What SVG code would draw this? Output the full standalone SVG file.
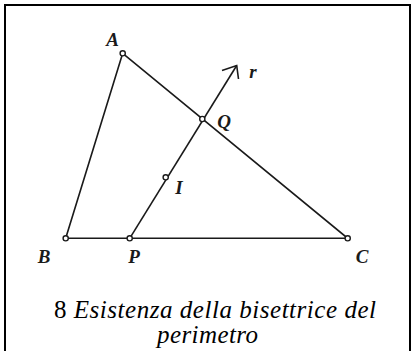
<svg xmlns="http://www.w3.org/2000/svg" width="411" height="351" viewBox="0 0 411 351">
<style>
.ln{stroke:#1a1a1a;stroke-width:1.6;fill:none}
.pt{fill:#fff;stroke:#1a1a1a;stroke-width:1.4}
.lb{font-family:"Liberation Serif",serif;font-style:italic;font-weight:bold;font-size:19px;fill:#1a1a1a;text-anchor:middle}
.cap{font-family:"Liberation Serif",serif;font-style:italic;font-size:25px;fill:#000}
.up{font-style:normal}
</style>
<rect x="0" y="0" width="411" height="351" fill="#fff"/>
<path d="M5,352 V5 H410 V352" fill="none" stroke="#000" stroke-width="2"/>
<g id="connectors">
<path class="ln" d="M122.7,53.3 L65.7,238.3 L347.7,238.3 Z"/>
<path class="ln" d="M129.7,238.3 L236.7,65.5"/>
<path class="ln" d="M222,70.5 L236.7,65.5 L238.5,79"/>
</g>
<g id="A"><circle class="pt" cx="122.7" cy="53.3" r="2.6"/><text class="lb" x="112.5" y="46">A</text></g>
<g id="B"><circle class="pt" cx="65.7" cy="238.3" r="2.6"/><text class="lb" x="44" y="263">B</text></g>
<g id="P"><circle class="pt" cx="129.7" cy="238.3" r="2.6"/><text class="lb" x="134" y="263">P</text></g>
<g id="C"><circle class="pt" cx="347.7" cy="238.3" r="2.6"/><text class="lb" x="362" y="263">C</text></g>
<g id="Q"><circle class="pt" cx="202.3" cy="119" r="2.6"/><text class="lb" x="224" y="128">Q</text></g>
<g id="I"><circle class="pt" cx="165.7" cy="177.3" r="2.6"/><text class="lb" x="179" y="194">I</text></g>
<g id="r"><text class="lb" x="253" y="78">r</text></g>
<g id="caption">
<text class="cap" x="54" y="318" textLength="322" lengthAdjust="spacing"><tspan class="up">8</tspan> Esistenza della bisettrice del</text>
<text class="cap" x="157" y="343" textLength="101" lengthAdjust="spacing">perimetro</text>
</g>
</svg>
